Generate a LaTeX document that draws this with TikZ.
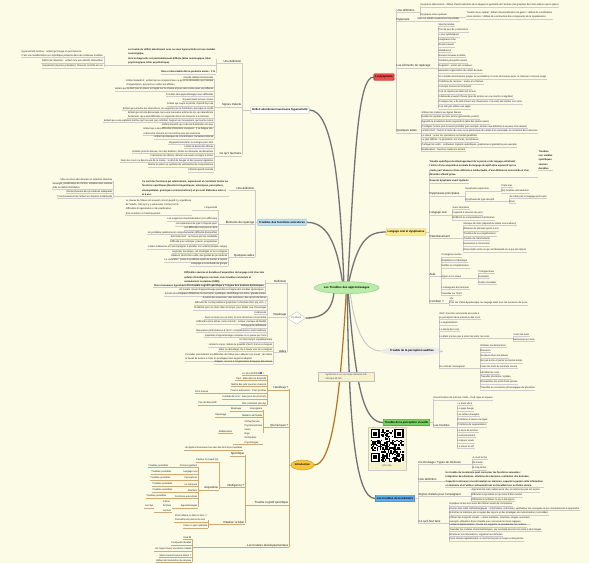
\documentclass[tikz,border=0pt]{standalone}
\usepackage{fontspec}
\setmainfont{Liberation Sans}
\usetikzlibrary{shapes.geometric}
\definecolor{bgc}{HTML}{FBFBE6}
\definecolor{redc}{HTML}{F04A4A}
\definecolor{yelc}{HTML}{FCEB8E}
\definecolor{cyac}{HTML}{BFE0F0}
\definecolor{grnc}{HTML}{72D65E}
\definecolor{bluc}{HTML}{5AAEF0}
\definecolor{cenc}{HTML}{B9EDA9}
\definecolor{oraf}{HTML}{F6C63C}
\definecolor{orad}{HTML}{C88A10}
\definecolor{tanc}{HTML}{CDAA78}
\definecolor{brnc}{HTML}{B8741A}
\definecolor{notec}{HTML}{F6F2CC}
\pgfdeclarelayer{back}
\pgfsetlayers{back,main}
\def\ulc{black!20}
\tikzset{
  it/.style={font=\fontsize{2.4}{4.2}\selectfont, text=black!88, inner xsep=0.5pt, inner ysep=0.4pt, align=left},
  lab/.style={font=\fontsize{2.9}{3.5}\selectfont, text=black!90},
  bd/.style={font=\fontsize{2.4}{4.4}\selectfont\bfseries, text=black!90},
  ul/.style={draw=\ulc, line width=0.35pt},
  mainc/.style={draw=black!55, line width=1.3pt},
  topbox/.style={font=\fontsize{2.8}{3.4}\selectfont\bfseries, inner xsep=1.5pt, inner ysep=1.2pt, minimum height=6.5pt, rounded corners=0.6pt},
}
\newcounter{nn}
\newcommand\RI[4][]{\stepcounter{nn}\node[it,#1,anchor=west] (n\thenn) at (#2,#3) {#4};\draw[ul] (n\thenn.south west) -- (n\thenn.south east);}
\newcommand\RP[5][]{\stepcounter{nn}\node[it,#1,anchor=west] (n\thenn) at (#2,#3) {#4};\draw[ul] (n\thenn.south west) -- (n\thenn.south east) -- (n\thenn.south east -| #5,0);}
\newcommand\LI[4][]{\stepcounter{nn}\node[it,#1,anchor=east] (n\thenn) at (#2,#3) {#4};\draw[ul] (n\thenn.south east) -- (n\thenn.south west);}
\newcommand\LP[5][]{\stepcounter{nn}\node[it,#1,anchor=east] (n\thenn) at (#2,#3) {#4};\draw[ul] (n\thenn.south east) -- (n\thenn.south west) -- (n\thenn.south west -| #5,0);}
\newcommand\BR[3]{\draw[ul] (#1,{#2+1.4}) -- (#1,{#3+1.4});}
\begin{document}
\begin{tikzpicture}[x=1pt,y=-1pt]
\begin{pgfonlayer}{back}
\fill[bgc] (0,0) rectangle (589,563);
\end{pgfonlayer}
\useasboundingbox (0,0) rectangle (589,563);

% ================= main nodes =================
\node[ellipse, fill=cenc, draw=green!45!black!50, line width=0.3pt, minimum width=57pt, minimum height=12pt, inner sep=0pt, font=\fontsize{2.9}{3.4}\selectfont\bfseries] (c) at (346.7,287.7) {Les Troubles des apprentissages};
\node[topbox, fill=redc, draw=red!70!black] (dysp) at (384,77) {La dyspraxie};
\node[topbox, fill=yelc, draw=yellow!60!black!60] (lang) at (406,232) {Langage oral et dysphasies};
\node[ellipse, fill=black!8, inner sep=0pt, minimum width=50pt, minimum height=9pt, font=\fontsize{2.8}{3.4}\selectfont\bfseries] (aud) at (412,351) {Trouble de la perception auditive};
\node[topbox, fill=grnc, draw=green!50!black] (vis) at (406.5,422.5) {Trouble de la perception visuelle};
\node[topbox, fill=bluc, draw=blue!50!black!60] (mem) at (395,498.5) {Les troubles de la mémoire};
\node[topbox, fill=white, draw=black!30, font=\fontsize{2.7}{3.3}\selectfont\bfseries] (tda) at (280,110) {Déficit attentionnel avec/sans hyperactivité};
\node[topbox, fill=cyac, draw=cyan!40!black!40] (fe) at (282,222.3) {Troubles des fonctions exécutives};
\node[diamond, aspect=1.6, fill=white, draw=black!25, inner sep=0.3pt, minimum width=19pt, minimum height=12.5pt, font=\fontsize{2.6}{3}\selectfont, text=orange!60!black] (dys) at (296.5,318) {Dyslexie};
\node[ellipse, fill=oraf, draw=orad, line width=0.35pt, minimum width=23pt, minimum height=10pt, inner sep=0pt, font=\fontsize{2.6}{3}\selectfont\bfseries] (intro) at (302.5,465) {Introduction};
\node[draw=black!25, fill=notec, line width=0.3pt, inner sep=1.2pt, align=left, font=\fontsize{2.4}{4.4}\selectfont, text=black!70, minimum width=56pt, anchor=north west] (note) at (318,372) {Symboles à voir sur www.cdeveret.info\\rubrique BLOG};

% QR code
\node[draw=black!20, fill=notec, line width=0.3pt, minimum width=38.5pt, minimum height=43pt, anchor=north west, inner sep=0pt] (qr) at (367.5,427) {};
\node[font=\fontsize{2.4}{3}\selectfont, text=black!70, anchor=south] (qrlab) at ([yshift=-0.6pt]qr.south) {QR code};
\begin{scope}[shift={(370.5,429)}]
  \fill[white] (0,0) rectangle (33,33);
  \def\m{1.32}
  \foreach \ox/\oy in {0/0,18/0,0/18}{
    \fill[black] (\ox*\m,\oy*\m) rectangle ({(\ox+7)*\m},{(\oy+7)*\m});
    \fill[white] ({(\ox+1)*\m},{(\oy+1)*\m}) rectangle ({(\ox+6)*\m},{(\oy+6)*\m});
    \fill[black] ({(\ox+2)*\m},{(\oy+2)*\m}) rectangle ({(\ox+5)*\m},{(\oy+5)*\m});
  }
  \pgfmathsetseed{11}
  \foreach \i in {0,...,24}{
    \foreach \j in {0,...,24}{
      \pgfmathtruncatemacro\okq{(((\i<8)&&(\j<8))||((\i>16)&&(\j<8))||((\i<8)&&(\j>16)))?0:1}
      \pgfmathtruncatemacro\rq{rnd<0.5?1:0}
      \ifnum\okq=1 \ifnum\rq=1
        \fill[black] (\i*\m,\j*\m) rectangle ({(\i+1)*\m},{(\j+1)*\m});
      \fi\fi
    }
  }
\end{scope}

% ================= main connectors =================
\begin{pgfonlayer}{back}
\draw[mainc] (c.115) .. controls (340,180) and (332,110) .. (tda.east);
\draw[mainc] (c.80) .. controls (355,150) and (358,77) .. (dysp.west);
\draw[mainc] (c.125) .. controls (336,240) and (326,222.3) .. (fe.east);
\draw[mainc] (c.70) .. controls (358,240) and (368,232) .. (lang.west);
\draw[mainc] (c.155) .. controls (335,312) and (322,318) .. (dys.east);
\draw[draw=black!22, line width=0.9pt] (c.-60) .. controls (356,335) and (366,351) .. (aud.west);
\draw[draw=brnc, line width=1.2pt] (c.-95) .. controls (340,400) and (332,465) .. (intro.east);
\draw[mainc] (c.-75) .. controls (356,390) and (364,422.5) .. (vis.west);
\draw[mainc] (c.-85) .. controls (349,430) and (356,498.5) .. (mem.west);
\end{pgfonlayer}

% ================= La dyspraxie =================
\draw[ul] (dysp.east) -- (396,77);
\BR{396}{10}{131}
\RP[lab]{396}{10}{Une définition}{420}
\BR{420}{5}{15}
\RI{420}{5}{Dyspraxie idéomotrice : défaut d'automatisation de la séquence gestuelle de l'écriture (les graphies des mots ailleurs qu'en place)}
\RP{420}{15}{Dyspraxie visuo-spatiale}{466}
\RI{466}{15}{Trouble visuo-spatial : défaut d'automatisation du geste = défaut de coordination\\visuo-motrice = défaut de construction des composants de la spatialisation}
\RP[lab]{396}{19.3}{Dyspraxie}{417}
\RI{417}{19.3}{Mise en relation expérience impossible}
\RP[lab]{396}{66}{Les éléments de repérage}{438}
\BR{438}{25}{107}
\RI{438}{25}{Marche tardive}
\RI{438}{30}{Pas de jeux de construction}
\RI{438}{35}{+ jeux symboliques}
\RI{438}{40}{Imaginaire riche}
\RI{438}{45}{Dessin pauvre}
\RI{438}{51}{Maladresse}
\RI{438}{56}{Souvent anxieux-solitaire}
\RI{438}{61}{Troubles perceptifs visuels}
\RI{438}{66}{Regarder : porter est complexe}
\RI{438}{71}{Mauvaise organisation du cahier de texte}
\RI{438}{77}{Un cartable énormissime (papier en accordéon), la zone du bureau aussi, le classeur n'est pas rangé}
\RI{438}{82}{Problème de recopier : textes et schémas}
\RI{438}{87}{Il recopie souvent et lentement}
\RI{438}{92}{Il ne se repère pas dans les locaux}
\RI{438}{97}{Il demande souvent l'heure (pas de lecture sur une montre à aiguilles)}
\RI{438}{102}{Il mange mal, a du mal à lacer ses chaussures, il se salit, fait tomber son verre}
\RI{438}{107}{Il ne sait pas utiliser une règle}
\RP[lab]{396}{131}{Quelques aides}{421}
\BR{421}{112.7}{149.3}
\RI{421}{112.7}{Utiliser des cahiers aux lignes bleues}
\RI{421}{117.3}{Guider les repères par des pictos (gommettes, points)}
\RI{421}{122}{Agrandir la production écrite (agrandir la taille des photocopies)}
\RI{421}{126.7}{Privilégier l'oral le plus souvent possible (par exemple, donner une définition à la place d'un dessin)}
\RI{421}{131.3}{Limiter l'écrit : fournir le texte du cours ou la photocopie du cahier d'un camarade, la correction des exercices}
\RI{421}{135.7}{Le calcul : poser les opérations sur feuille quadrillée}
\RI{421}{140.3}{Le plus difficile : la géométrie, les tracés, les tableaux}
\RI{421}{145}{Partager les outils : ordinateur, logiciels spécifiques, graphisme et géométrie par exemple}
\RI{421}{149.3}{Rééducation : favoriser l'aide à la lecture}

% ================= Langage oral =================
\draw[ul] (lang.east) -- (429,232);
\BR{429}{170}{301.7}
\RP[bd]{429}{168.5}{Trouble spécifique du développement de la parole et du langage entraînant\\l'échec d'une acquisition normale du langage réceptif et/ou expressif qui se\\révèle par l'absence d'une déficience intellectuelle, d'une déficience sensorielle et d'un\\désordre affectif grave.}{538}
\RI[bd]{538}{160}{Troubles\\non visibles\\spécifiques\\sévères\\durables}
\RI[bd]{429}{181}{Souvent dysphasie avant dyslexie}
\RP[lab]{429}{194}{Dysphasies principales}{465}
\BR{465}{189.3}{199.7}
\RP{465}{189.3}{Dysphasie expressive}{501}
\BR{501}{186}{191}
\RI{501}{186}{Parle mal}
\RI{501}{191}{QQ troubles articulatoires}
\RP{465}{199.7}{Dysphasie de type réceptif}{509}
\BR{509}{196.7}{202}
\RI{509}{196.7}{Ne traite pas le langage qu'il reçoit}
\RI{509}{202}{Rare}
\RP[lab]{429}{213}{Langage oral}{452}
\BR{452}{208}{218.3}
\RI{452}{208}{Sans intonation}
\RI{452}{213}{Capacité à résumer du sens}
\RI{452}{218.3}{Réfléchir au comportement intentionnel}
\RP[lab]{429}{236.7}{Retentissement}{463}
\BR{463}{223.7}{250}
\RI{463}{223.7}{Manque de mots (dépend du milieu socioculturel)}
\RI{463}{229}{Absence de phrases après 4 ans}
\RI{463}{234}{Troubles de la compréhension}
\RI{463}{239}{Trouble de l'informativité}
\RI{463}{244.3}{Expression à l'économie}
\RI{463}{250}{Dissociation entre ce qui est demandé et ce qui est naturel}
\RP[lab]{429}{274.3}{Aide}{441}
\BR{441}{255.3}{293.3}
\RI{441}{255.3}{Consignes courtes}
\RI{441}{260.7}{Répétitions à l'identique}
\RI{441}{266}{Vérifier la compréhension}
\RP{441}{276.7}{Appui sur le visuel}{478}
\BR{478}{271.7}{282.3}
\RI{478}{271.7}{Pictogrammes}
\RI{478}{277}{Gestuelle}
\RI{478}{282.3}{Cartes mentales}
\RI{441}{287.7}{L'enseignant doit articuler}
\RI{441}{293.3}{Travailler sur l'écrit}
\RP[lab]{429}{301.7}{Combien ?}{449}
\BR{449}{298.3}{303.3}
\RI{449}{298.3}{1\%}
\RI{449}{303.3}{Plus dur d'être dysphasique car langage dans tous les moments de la vie}

% ================= Perception auditive =================
\draw[ul] (aud.east) -- (439,351);
\BR{439}{316}{366.7}
\RI{439}{315.5}{DEF: Fonction sensorielle associée à\\la perception de la présence des sons.}
\RI{439}{323.3}{La segmentation}
\RI{439}{329.3}{La durée des sons}
\RP{439}{336.7}{L'enfant n'arrive pas à isoler les mots, les sons.}{513}
\BR{513}{334.7}{340}
\RI{513}{334.7}{Isoler les mots}
\RI{513}{340}{Mémoriser les mots}
\RP{439}{366.7}{Du côté de l'enseignant}{480}
\BR{480}{345.3}{388}
\RI{480}{345.3}{Éliminer les distractions}
\RI{480}{350.7}{Élocution}
\RI{480}{356}{Se placer face aux élèves}
\RI{480}{361}{Ne pas écrire et parler en même temps}
\RI{480}{366.7}{Isoler les mots du contexte sonore}
\RI{480}{372.3}{Identifier les sons}
\RI{480}{377.3}{Travailler phonème / syllabe}
\RI{480}{382.3}{Démembrer les mots d'une phrase}
\RI{480}{388}{Travailler la conscience phonologique du phonème}

% ================= Perception visuelle =================
\draw[ul] (vis.east) -- (433,422.5);
\BR{433}{398}{425.3}
\RI{433}{398}{Discrimination de la forme / taille - fond, ligne et espace}
\RP[lab]{433}{425.3}{Les troubles}{457}
\BR{457}{403.7}{446.3}
\RI{457}{403.7}{Le texte vibre}
\RI{457}{409}{La page bouge}
\RI{457}{414.7}{Les lettres changent}
\RI{457}{420}{Problème à suivre une ligne}
\RI{457}{425.3}{Problème de segmentation}
\RI{457}{430.3}{Le sens de la lettre}
\RI{457}{435.7}{L'environnement}
\RI{457}{441}{L'espace visuel}
\RI{457}{446.3}{La vision en 3D}

% ================= Mémoire =================
\draw[ul] (mem.east) -- (418,498.5);
\BR{418}{462.3}{521.3}
\RP[lab]{418}{462.3}{Du stockage / Types de mémoire}{472}
\BR{472}{457.3}{468}
\RI{472}{457.3}{A court terme}
\RI{472}{462.7}{de travail}
\RI{472}{468}{A long terme}
\RP[lab]{418}{479.7}{Une définition}{445}
\RI[bd]{445}{479.3}{Un trouble de la mémoire peut concerner les fonctions suivantes :\\Intégration des données, rétention des données, restitution des données.\\Capacité à retrouver une information en mémoire, capacité à garder cette information\\en mémoire et à l'utiliser activement tout en travaillant sur un thème donné.}
\RP[lab]{418}{494.7}{Signes d'alerte pour l'enseignant}{471}
\BR{471}{490.3}{499.7}
\RI{471}{490.3}{Apprend vite mais oublie aussi vite, ne mémorise pas les leçons}
\RI{471}{495}{Difficulté à reproduire ce qui vient d'être montré}
\RI{471}{499.7}{Difficultés à mobiliser ce qui a été appris}
\RP[lab]{418}{521.3}{Ce qu'il faut faire}{449}
\BR{449}{504}{539.3}
\RI{449}{504}{Expliquer le but et le sens des tâches avant de commencer}
\RI{449}{508.7}{Donner des outils méthodologiques : schématiser, reformuler, synthétiser les consignes et les connaissances à apprendre}
\RI{449}{513.3}{Entraîner la mémoire par le rappel des leçons et des stratégies de mémorisation (consolider)}
\RI{449}{520}{Utiliser des supports visuels : cartes mentales, schémas, images associées\\exemple, utilisation d'une cheville pour conserver les liens logiques}
\RI{449}{525.3}{Limiter la mémorisation : fournir les supports, le vocabulaire, les notions}
\RI{449}{529.7}{Travailler les routines mnémotechniques, par exemple associer les mots à des images}
\RI{449}{534.7}{Structurer les informations, organiser les données}
\RI{449}{539.3}{Faire réviser régulièrement, à court terme puis à moyen et long terme}

% ================= Déficit attentionnel =================
\draw[ul] (tda.west) -- (242,110);
\BR{242}{61.7}{154}
\LP[lab]{242}{61.7}{Une définition}{216}
\BR{216}{58}{72}
\LP[bd]{216}{56.5}{Le trouble du déficit attentionnel avec ou sans hyperactivité est une maladie\\neurologique,\\dont le diagnostic est particulièrement difficile (bilan neurologique, bilan\\psychologique, bilan psychiatrique).}{104}
\BR{104}{55}{66}
\LI{104}{53.5}{Hyperactivité motrice : enfant qui bouge en permanence.\\C'est une manifestation non spécifique présente dans de nombreux troubles.}
\LI{104}{61}{Déficit de l'attention : enfant mou peu attentif, distractible.}
\LI{104}{66}{Impulsivité (réponse précipitée). Mauvais contrôle de soi.}
\LI[bd]{216}{72}{Rare et observable dès la première année : 3 \%}
\LP[lab]{242}{105}{Signes d'alerte}{214}
\BR{214}{77.7}{137.3}
\LI{214}{77.7}{Grande labilité émotionnelle}
\LI{214}{83}{Enfant maladroit : enfant qui ne comprend pas ce qu'on lui demande, qui manque\\d'organisation, qui perd ou oublie ses affaires}
\LI{214}{89.3}{Enfant qui ne tient pas en place, est agité sur sa chaise et joue sans cesse avec ses affaires}
\LI{214}{94.7}{Troubles des apprentissages avec difficultés}
\LI{214}{99.3}{Souvent dans la lune, rêveur}
\LI{214}{104}{Enfant qui coupe la parole, répond trop vite}
\LI{214}{108.7}{Enfant qui perturbe les interactions, ne supporte pas la frustration, provoque le conflit}
\LI{214}{114.5}{Enfant qui est vite découragé, qui a une mauvaise estime de soi, qui abandonne\\facilement, qui a des difficultés à s'organiser dans son travail et à le terminer}
\LI{214}{120.7}{Enfant qui a une agitation motrice qu'il ne peut pas contrôler, toujours en mouvement, qui touche à tout}
\LI{214}{125}{Enfant impulsif, qui a du mal à attendre son tour}
\LI{214}{131.3}{Enfant qui a des difficultés d'attention soutenue : il se fatigue vite,\\il décroche souvent et il ne termine pas ses exercices}
\LI{214}{137.3}{Enfant qui manque de concentration, facilement distrait}
\LP[lab]{242}{154}{Ce qu'il faut faire}{214}
\BR{214}{142.7}{170}
\LI{214}{142.7}{Organiser/structurer la consigne par l'écrit}
\LI{214}{147}{Limiter la durée des tâches}
\LI{214}{151.5}{Installer près du bureau, loin des fenêtres, limiter les éléments de distraction}
\LI{214}{156}{Fractionner les tâches, donner une seule consigne à la fois}
\LI{214}{160.7}{Dans les cours ou dans la vie de la classe : le droit de bouger et des pauses régulières}
\LI{214}{165.3}{Mettre en place un système de valorisation du comportement}
\LI{214}{170}{Féliciter quand réussite}

% ================= Fonctions exécutives =================
\draw[ul] (fe.west) -- (255,222.3);
\BR{255}{188.3}{255.7}
\LP[lab]{255}{188.3}{Une définition}{229}
\LP[bd]{229}{188}{Ce sont des fonctions qui administrent, supervisent et contrôlent toutes les\\fonctions spécifiques (fonctions linguistiques, mnésiques, perceptives,\\visuospatiales, gnosiques et visuomotrices) et qui sont élaborées entre 4\\et 6 ans.}{113}
\BR{113}{180}{196.7}
\LI{113}{180}{Mise en place des données et attention sélective}
\LI{113}{186}{Stratégie, planification de l'action, inhibition des routines\\Aide au déficit d'inhibition}
\LI{113}{191.7}{Déclenchement des procédures adéquates}
\LI{113}{196.7}{Fonctionnement de l'enfant en situation inhabituelle}
\LP[lab]{255}{222.3}{Éléments de repérage}{218}
\BR{218}{208.3}{242.3}
\LP{218}{208.3}{L'impulsivité}{192}
\LI{192}{207}{Le niveau de l'élève est souvent correct quand il y a guidance\\de l'adulte. Dès qu'il y a autonomie, l'échec est là.\\Difficultés d'organisation et de planification,\\d'où la lenteur et l'inachèvement.}
\LI{218}{219}{Les exigences d'automatisation (non efficaces)}
\LI{218}{224}{Les répertoires de type 'n'importe quoi'}
\LI{218}{228.3}{Les difficultés sont plus à l'écrit}
\LI{218}{232.7}{Un problème relationnel et comportemental (difficulté d'empathie)}
\LI{218}{237.3}{Atermoiement : ne trouve pas les modalités}
\LI{218}{242.3}{Difficulté pour anticiper, prévoir, programmer}
\LP[lab]{255}{255.7}{Quelques aides}{228}
\BR{228}{247.3}{264.3}
\LI{228}{247.3}{L'aider à démarrer et l'accompagner à planifier son activité (étapes, temps)}
\LI{228}{251.7}{Expliciter les étapes, les stratégies et les consignes}
\LI{228}{256}{Élaborer des fiches-outils, des guides de procédures}
\LI{228}{260.3}{Le caractère : poser le problème avant de passer à l'action}
\LI{228}{264.3}{L'étayage à la méthode de groupe}

% ================= Dyslexie =================
\draw[ul] (dys.west) -- (287,318);
\BR{287}{281.7}{351}
\LP[lab]{287}{281.7}{Définition}{265}
\BR{265}{279}{290.3}
\LI[bd]{265}{277.7}{Difficultés sévères et durables d'acquisition du langage écrit chez des\\enfants d'intelligence normale, sans troubles sensoriels et\\normalement scolarisés (OMS).}
\LI[bd]{265}{285.5}{Plus récemment, hypothèse d'un trouble cognitif spécifique à l'origine des troubles dyslexiques.}
\LI{265}{290.3}{Un trouble 'visuel' d'apprentissage peut être à l'origine des troubles dyslexiques.}
\LP[lab]{287}{315}{Repérage}{267}
\BR{267}{294.3}{335.7}
\LI{267}{294.3}{Activité phonologique défaillante, lecture lente, syllabique, déchiffrage à la lettre, grande lenteur}
\LI{267}{298.3}{Il existe des inversions, des omissions, des ajouts de lettres}
\LI{267}{303}{Difficulté de correspondance graphème / phonème (b/d, p/q, m/n...)}
\LI{267}{308}{Problème pour se situer dans le temps, pour établir une chronologie}
\LI{267}{312.7}{Confusions}
\LI{267}{317.7}{Dans un texte (ou un mot), le sens de lecture est perturbé}
\LI{267}{322.3}{Difficultés entre lettres, mots et écrits : lenteur, manque de fluidité}
\LI{267}{326.3}{Orthographe défaillante}
\LI{267}{330.7}{Mauvaises performances à l'écrit ; compréhension orale meilleure}
\LI{267}{335.7}{Capacités d'apprentissage normales si on passe par l'oral}
\LP[lab]{287}{351}{Aides}{273}
\BR{273}{340.3}{362.3}
\LI{273}{340.3}{Un tiers-temps supplémentaire}
\LI{273}{345}{Limiter la copie, réduire la quantité d'écrit, lire les consignes}
\LI{273}{349.7}{Aider au décodage, lire à haute voix les consignes}
\LI{273}{357}{Consulter précisément les difficultés de l'élève pour adapter son travail ; de même\\le travail de lecture à l'oral en privilégiant des supports adaptés}
\LI{273}{362.3}{Adapter, recourir à l'organisation d'équipes éducatives}

% ================= Introduction =================
\begin{scope}
\def\ulc{tanc}
\draw[ul] (intro.west) -- (289,465);
\BR{289}{388}{545.3}
\LP[lab]{289}{388}{Handicap ?}{267}
\BR{267}{373.3}{403.3}
\LI{267}{373.3}{Loi du 11/02/2005\hspace{5pt}}
\fill[blue!60] (260.2,371.9) rectangle +(1.8,1.8);
\fill[yellow!80!orange] (262.6,371.9) rectangle +(1.8,1.8);
\LI{267}{378.7}{Trad : Mais dans le dispositif}
\LI{267}{384.7}{Mettre des pdv sous les chemins}
\LP{267}{391.3}{Fournir autonomie - Plein positive}{209}
\LI{209}{391.3}{Zéro licence}
\LI{267}{397}{Combat de la loi : bien pour les plus forts}
\LP{267}{403.3}{Être conciliant des dys}{218}
\LI{218}{403.3}{Pas de dispositif !}
\LP[lab]{289}{425.3}{Qui fait quoi ?}{263}
\BR{263}{409}{432}
\LP{263}{409}{Enseignant}{242}
\LI{242}{409}{Repérage}
\LP{263}{415.3}{Médecin de famille}{227}
\LI{227}{415.3}{Dépistage}
\LP{263}{432}{Orthophoniste\\Psychomotricien\\neuro\\Ergo\\Orthoptiste\\Psychologue}{233}
\LI{233}{432}{Rééducation}
\LP[lab]{289}{503}{Trouble cognitif spécifique}{245}
\BR{245}{453.7}{522}
\LI{243}{448}{Un dysfonctionnement au sein des fonctions mentales}
\LI[lab]{245}{453.7}{Spécifique}
\LP[lab]{245}{485.3}{Intelligence ?}{219}
\BR{219}{460.3}{488}
\LI{219}{460.3}{Facteur G (avant QI)}
\LP[lab]{219}{488}{Acquisition}{198}
\BR{198}{465.7}{506}
\LP{198}{465.7}{Praxies (gestes)}{169}
\LI{169}{465.7}{Troubles possibles}
\LP{198}{472}{Langage oral}{172}
\LI{172}{472}{Troubles possibles}
\LP{198}{478}{Perceptions}{171}
\LI{171}{478}{Troubles possibles}
\LP{198}{484.3}{La mémoire}{173}
\LI{173}{484.3}{Troubles possibles}
\LP{198}{490.3}{Attention}{173}
\LI{173}{490.3}{Troubles possibles}
\LP{198}{496.3}{Fonctions exécutives}{167}
\LI{167}{496.3}{Troubles possibles}
\LP{198}{506}{Apprentissages}{172}
\LP{172}{506}{Calcul\\Écriture\\Lecture}{154}
\LI{154}{506}{Les dys}
\LP[lab]{245}{522}{Réaliser le bilan}{208}
\BR{208}{518.2}{526.3}
\LI{208}{518.2}{Il faut refaire ou faire le sien ! /\\Connaître les pierres du mur}
\LI{208}{526.3}{Faire un pari optimiste}
\LP[lab]{289}{545.3}{Les troubles développementaux}{192}
\BR{192}{537.3}{560.7}
\LI{192}{537.3}{Inné dit}
\LI{192}{543}{Incapacité durable}
\LI{192}{549}{Un rapport avec une lésion initiale}
\LI{192}{555.3}{Mais souvent aucune lésion ?}
\LI{192}{560.7}{Défaut de maturation du cerveau}
\end{scope}
\end{tikzpicture}
\end{document}
